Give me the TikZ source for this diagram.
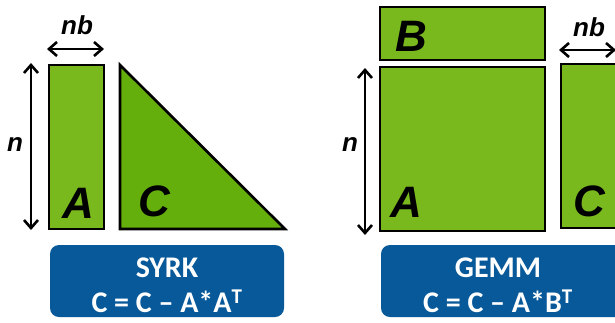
\documentclass[tikz,border=0pt]{standalone}
\usepackage{fontspec}
\setmainfont{Liberation Sans}
\newfontfamily\calib{Carlito}
\usetikzlibrary{arrows.meta}
\definecolor{gA}{HTML}{7AB91E}
\definecolor{gT}{HTML}{64AF0B}
\definecolor{bbox}{HTML}{07599A}
\tikzset{
  mat/.style={draw=black,line width=2.6pt,fill=gA},
  dimarrow/.style={line width=2.6pt,{Straight Barb[length=8pt,width=14pt]}-{Straight Barb[length=8pt,width=14pt]}},
  biglbl/.style={font=\fontsize{44}{44}\selectfont\bfseries\itshape,inner sep=0pt},
  dimlbl/.style={font=\fontsize{26}{26}\selectfont\bfseries\itshape,inner sep=0pt},
  opbox/.style={fill=bbox,rounded corners=9pt},
  optext/.style={text=white,font=\calib\fontsize{30}{30}\selectfont\bfseries,inner sep=0pt}
}
\begin{document}
\begin{tikzpicture}[x=1pt,y=-1pt]
\useasboundingbox (0,0) rectangle (615,322);
\clip (0,0) rectangle (615,322);
% ---- SYRK ----
\draw[mat] (49,65) rectangle (104,229);
\draw[mat,fill=gT,line join=miter] (120,65) -- (120,229) -- (285,229) -- cycle;
\node[biglbl] (a1) at (78,203) {A};
\node[biglbl] (c1) at (154,201) {C};
\coordinate (nbL1) at (47,49);
\coordinate (nbR1) at (104,49);
\draw[dimarrow] (nbL1) -- (nbR1);
\node[dimlbl] (nb1) at (77,25) {nb};
\coordinate (nT1) at (31,63);
\coordinate (nB1) at (31,230);
\draw[dimarrow] (nT1) -- (nB1);
\node[dimlbl] (n1) at (15,145) {n};
\fill[opbox] (50,245) rectangle (284,317);
\node[optext] (s1) at (167,268) {SYRK};
\node[optext] (f1) at (167,301) {C = C – A*A\textsuperscript{T}};
% ---- GEMM ----
\draw[mat] (380,7) rectangle (545,60);
\draw[mat] (380,67) rectangle (545,231);
\draw[mat] (561,64) rectangle (640,228);
\node[biglbl] (b2) at (411,36) {B};
\node[biglbl] (a2) at (406,202) {A};
\node[biglbl] (c2) at (589,201) {C};
\coordinate (nT2) at (365,68);
\coordinate (nB2) at (365,235);
\draw[dimarrow] (nT2) -- (nB2);
\node[dimlbl] (n2) at (350,145) {n};
\coordinate (nbL2) at (559,50);
\coordinate (nbR2) at (616,50);
\draw[dimarrow] (nbL2) -- (nbR2);
\node[dimlbl] (nb2) at (589,27) {nb};
\fill[opbox] (381,245) rectangle (640,317);
\node[optext] (s2) at (498,268) {GEMM};
\node[optext] (f2) at (498,301) {C = C – A*B\textsuperscript{T}};
\end{tikzpicture}
\end{document}
